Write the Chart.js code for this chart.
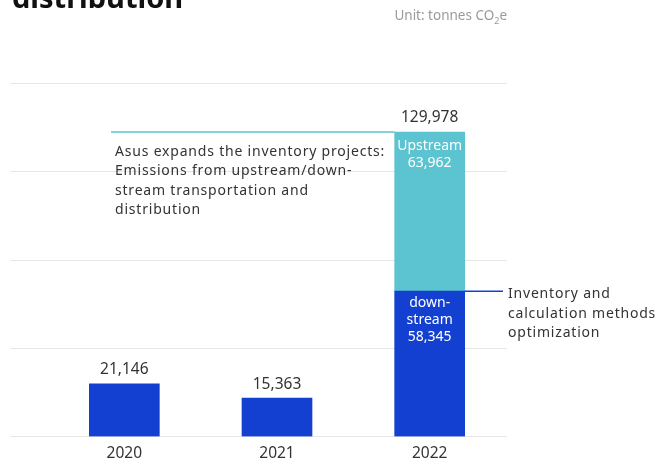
<!DOCTYPE html>
<html>
<head>
<meta charset="utf-8">
<script src="https://cdn.jsdelivr.net/npm/chart.js@4.4.0/dist/chart.umd.min.js"></script>
<style>
  html, body { margin: 0; padding: 0; background: #fff; }
  #wrap { width: 659px; height: 462px; position: relative; }
</style>
</head>
<body>
<div id="wrap"><canvas id="grafico"></canvas></div>
<script>
// datos (toneladas CO2e)
const anios = ['2020', '2021', '2022']
const totalAnterior = [21146, 15363, null]
const downstream = [null, null, 58345]
const upstream = [null, null, 63962]
const totales = [21146, 15363, 129978]
const lineasGrid = [0, 35500, 71000, 106500, 142000]

const azul = '#1440d2'
const celeste = '#5cc3d0'
const texto = '#333333'
const fuente = '"Noto Sans", "Open Sans", sans-serif'

const fmt = n => n.toLocaleString('en-US')

// lineas horizontales de fondo, mas anchas que el area de barras
const pluginGrid = {
  id: 'grid',
  beforeDatasetsDraw(chart) {
    const {ctx} = chart
    const y = chart.scales.y
    ctx.save()
    ctx.strokeStyle = '#e6e6e6'
    ctx.lineWidth = 1
    lineasGrid.forEach(v => {
      const py = Math.round(y.getPixelForValue(v)) + 0.5
      ctx.beginPath()
      ctx.moveTo(10, py)
      ctx.lineTo(507, py)
      ctx.stroke()
    })
    ctx.restore()
  }
}

// textos: titulo, unidad, etiquetas y notas
const pluginTextos = {
  id: 'textos',
  afterDatasetsDraw(chart) {
    const {ctx} = chart
    const x = chart.scales.x
    const y = chart.scales.y
    ctx.save()

    // titulo (solo se ve la ultima linea)
    ctx.fillStyle = '#111'
    ctx.font = `bold 29px ${fuente}`
    ctx.textAlign = 'left'
    ctx.textBaseline = 'alphabetic'
    ctx.fillText('distribution', 12, 8)

    // unidad
    ctx.fillStyle = '#9a9a9a'
    ctx.textBaseline = 'middle'
    ctx.font = `9px ${fuente}`
    const w2 = ctx.measureText('2').width
    ctx.font = `13.5px ${fuente}`
    const w1 = ctx.measureText('Unit: tonnes CO').width
    const w3 = ctx.measureText('e').width
    let ux = 507 - (w1 + w2 + w3)
    ctx.fillText('Unit: tonnes CO', ux, 16)
    ux += w1
    ctx.font = `9px ${fuente}`
    ctx.fillText('2', ux, 21)
    ux += w2
    ctx.font = `13.5px ${fuente}`
    ctx.fillText('e', ux, 16)

    // totales sobre cada barra
    ctx.fillStyle = texto
    ctx.font = `15.5px ${fuente}`
    ctx.textAlign = 'center'
    const tope = [totalAnterior[0], totalAnterior[1], downstream[2] + upstream[2]]
    totales.forEach((t, i) => {
      ctx.fillText(fmt(t), x.getPixelForValue(i), y.getPixelForValue(tope[i]) - 14)
    })

    // etiquetas dentro del tramo 2022
    const cx = x.getPixelForValue(2)
    const topeUp = y.getPixelForValue(downstream[2] + upstream[2])
    const topeDown = y.getPixelForValue(downstream[2])
    ctx.fillStyle = '#ffffff'
    ctx.font = `14px ${fuente}`
    ctx.fillText('Upstream', cx, topeUp + 14)
    ctx.fillText(fmt(upstream[2]), cx, topeUp + 31)
    ctx.fillText('down-', cx, topeDown + 12)
    ctx.fillText('stream', cx, topeDown + 29)
    ctx.fillText(fmt(downstream[2]), cx, topeDown + 46)

    // notas con su linea guia
    const meta = chart.getDatasetMeta(2).data[2]
    const izq = meta.x - meta.width / 2
    const der = meta.x + meta.width / 2
    ctx.lineWidth = 1.5
    ctx.strokeStyle = celeste
    ctx.beginPath()
    ctx.moveTo(111, topeUp)
    ctx.lineTo(izq, topeUp)
    ctx.stroke()
    ctx.strokeStyle = azul
    ctx.beginPath()
    ctx.moveTo(der, topeDown)
    ctx.lineTo(503, topeDown)
    ctx.stroke()

    ctx.fillStyle = texto
    ctx.font = `14px ${fuente}`
    ctx.textAlign = 'left'
    ctx.letterSpacing = '0.8px'
    const nota1 = ['Asus expands the inventory projects:', 'Emissions from upstream/down-', 'stream transportation and', 'distribution']
    nota1.forEach((l, i) => ctx.fillText(l, 115, topeUp + 20 + i * 19.5))
    const nota2 = ['Inventory and', 'calculation methods', 'optimization']
    nota2.forEach((l, i) => ctx.fillText(l, 508, topeDown + 3 + i * 19.5))
    ctx.restore()
  }
}

new Chart(document.getElementById('grafico'), {
  type: 'bar',
  data: {
    labels: anios,
    datasets: [
      { label: 'Total', data: totalAnterior, backgroundColor: azul },
      { label: 'downstream', data: downstream, backgroundColor: azul },
      { label: 'Upstream', data: upstream, backgroundColor: celeste }
    ]
  },
  options: {
    responsive: true,
    maintainAspectRatio: false,
    animation: false,
    layout: { padding: { left: 48, right: 153, top: 83, bottom: -9 } },
    datasets: { bar: { barThickness: 70, borderWidth: 0 } },
    plugins: {
      legend: { display: false },
      tooltip: { enabled: false },
      title: { display: false }
    },
    scales: {
      x: {
        stacked: true,
        grid: { display: false, drawTicks: false },
        border: { display: false },
        ticks: { color: texto, font: { family: fuente, size: 15.5 }, padding: 8 }
      },
      y: {
        stacked: true,
        display: false,
        min: 0,
        max: 142000
      }
    }
  },
  plugins: [pluginGrid, pluginTextos]
})
</script>
</body>
</html>
